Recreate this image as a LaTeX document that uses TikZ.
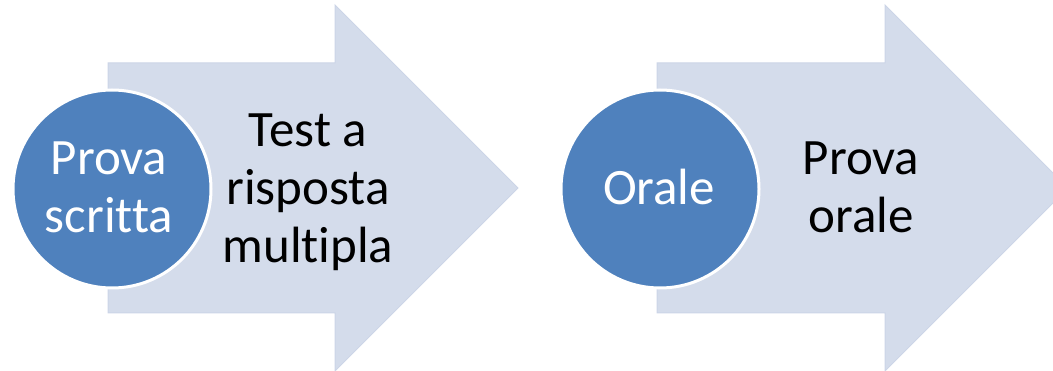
\documentclass[tikz,border=0pt]{standalone}
\usepackage{fontspec}
\setmainfont{Carlito}[Ligatures=NoCommon]
\usepackage{tikz}
\definecolor{stepblue}{RGB}{79, 129, 189}
\definecolor{arrowfill}{RGB}{212, 220, 235}
\definecolor{arrowline}{RGB}{204, 213, 231}

\tikzset{
    bigarrow/.style={fill=arrowfill, draw=arrowline, line width=1pt},
    stagecircle/.style={circle, fill=stepblue, draw=white, line width=3pt,
        minimum size=198pt, inner sep=0pt},
    stagetext/.style={text=white, align=center, inner sep=0pt,
        font=\fontsize{51}{58}\selectfont},
    notetext/.style={text=black, align=center, inner sep=0pt,
        font=\fontsize{51}{58}\selectfont}
}

\begin{document}
\begin{tikzpicture}[x=1pt, y=-1pt]
    \useasboundingbox (0,0) rectangle (1053,371);
    \clip (0,0) rectangle (1053,371);

    % first stage
    \draw[bigarrow] (108,63) -- (335,63) -- (335,5) -- (518,188)
        -- (335,371) -- (335,313) -- (108,313) -- cycle;
    \node[stagecircle] (written) at (112,189) {};
    \node[stagetext] (writtenlabel) at (109,187) {Prova\\scritta};
    \node[notetext] (writtennote) at (308,192) {Test a\\risposta\\multipla};

    % second stage
    \draw[bigarrow] (657,63) -- (885,63) -- (885,5) -- (1068,188)
        -- (885,371) -- (885,313) -- (657,313) -- cycle;
    \node[stagecircle] (oral) at (660,189) {};
    \node[stagetext] (orallabel) at (659,186.5) {Orale};
    \node[notetext] (oralnote) at (861,187) {Prova\\orale};
\end{tikzpicture}
\end{document}
